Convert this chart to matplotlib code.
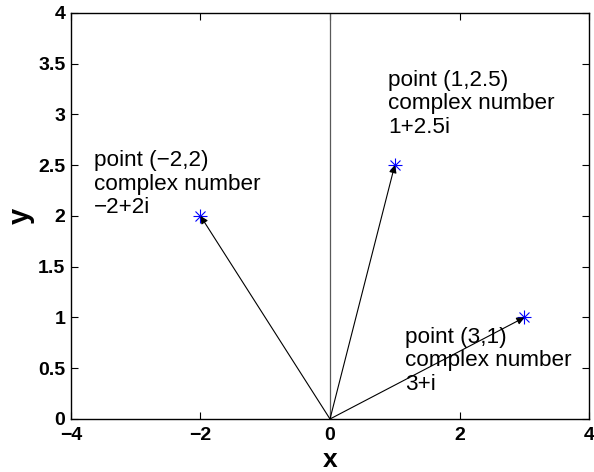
import numpy as np
import matplotlib.pyplot as plt

# complex numbers drawn as vectors from the origin
re_parts = [-2, 1, 3]
im_parts = [2, 2.5, 1]
labels = [
    "point (\u22122,2)\ncomplex number\n\u22122+2i",
    "point (1,2.5)\ncomplex number\n1+2.5i",
    "point (3,1)\ncomplex number\n3+i",
]
# where each caption sits (baseline of its last line)
label_x = [-3.64, 0.9, 1.16]
label_y = [2.03, 2.82, 0.29]

x_ticks = [-4, -2, 0, 2, 4]
y_ticks = [0, 0.5, 1, 1.5, 2, 2.5, 3, 3.5, 4]

plt.rcParams["font.family"] = ["Liberation Sans", "DejaVu Sans"]

fig = plt.figure(figsize=(5.94, 4.72), dpi=100)
ax = fig.add_axes([0.1195, 0.1123, 0.8721, 0.8602])

# imaginary axis
ax.plot([0, 0], [0, 4], color="0.35", lw=0.9)

for xr, yi in zip(re_parts, im_parts):
    ax.annotate("", xy=(xr, yi), xytext=(0, 0),
                arrowprops=dict(arrowstyle="-|>", color="black", lw=0.8,
                                mutation_scale=11, shrinkA=0, shrinkB=0))

# MATLAB-style asterisk: plus and cross overlaid
ax.plot(re_parts, im_parts, linestyle="none", marker="+", color="blue",
        markersize=10, markeredgewidth=0.8)
ax.plot(re_parts, im_parts, linestyle="none", marker="x", color="blue",
        markersize=7, markeredgewidth=0.8)

for tx, ty, s in zip(label_x, label_y, labels):
    ax.text(tx, ty, s, fontsize=16.2, va="baseline", ha="left",
            linespacing=1.15)

ax.set_xlim(-4, 4)
ax.set_ylim(0, 4)
ax.set_xticks(x_ticks)
ax.set_yticks(y_ticks)
ax.set_xticklabels([str(v).replace("-", "\u2212") for v in x_ticks])
ax.set_yticklabels(["%g" % v for v in y_ticks])
ax.tick_params(direction="in", length=5, width=0.8, top=True, right=True,
               labelsize=14, pad=4)
ax.tick_params(axis="x", pad=6)
for lab in ax.get_xticklabels() + ax.get_yticklabels():
    lab.set_fontweight("bold")
for sp in ax.spines.values():
    sp.set_linewidth(1.0)

ax.set_xlabel("x", fontsize=19, fontweight="bold")
ax.set_ylabel("y", fontsize=21, fontweight="bold")
ax.xaxis.set_label_coords(0.5, -0.072)
ax.yaxis.set_label_coords(-0.07, 0.5)

fig.savefig("out.png", dpi=100)
